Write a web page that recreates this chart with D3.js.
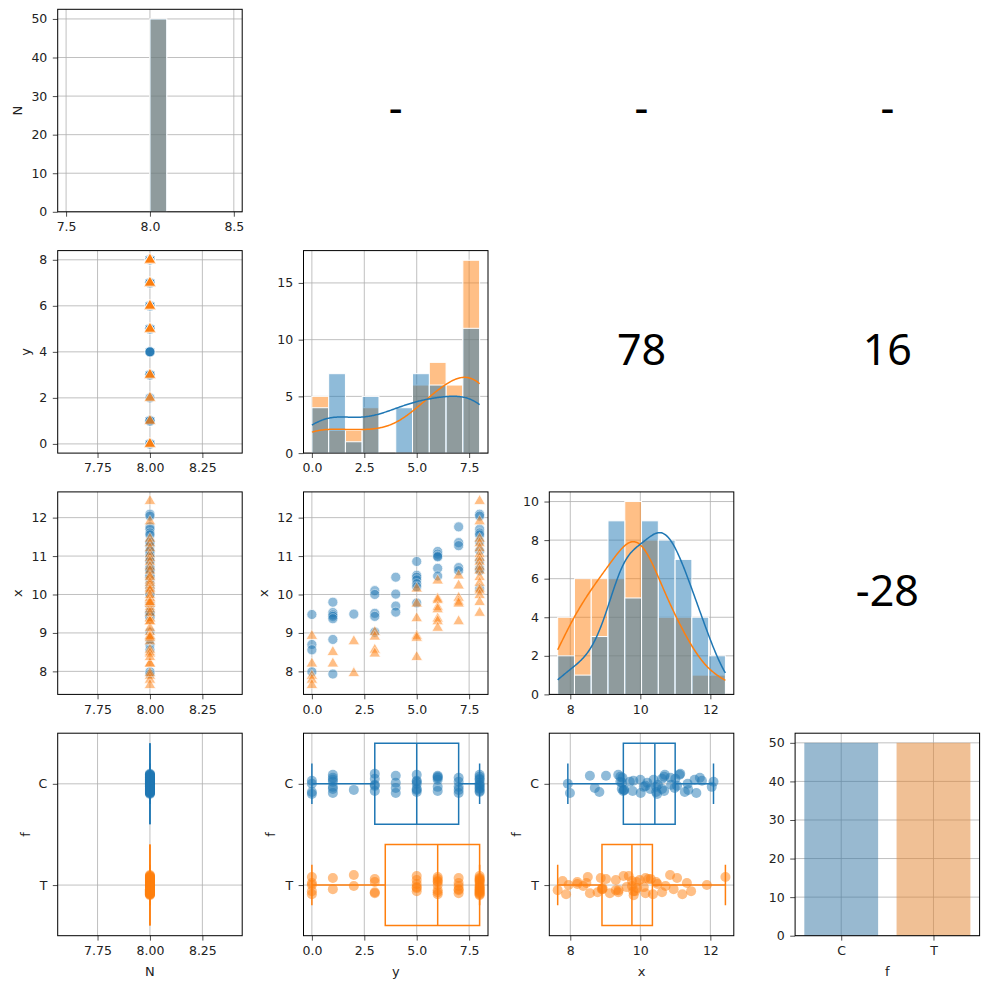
<!DOCTYPE html>
<html>
<head>
<meta charset="utf-8">
<script src="https://cdn.jsdelivr.net/npm/d3@7"></script>
<style>
  body { margin: 0; background: #fff; }
</style>
</head>
<body>
<svg id="chart" width="989" height="989"></svg>
<script>
/*
 * Pair grid of N, y, x and f, split by group f (C / T).
 * Lower panels: scatter / strip + box, diagonal: histograms with kde,
 * upper panels: a number printed in the middle.
 */

// ---- data ----

const GROUPS = ['C', 'T'];
const VARS = ['N', 'y', 'x', 'f'];
const UPPER_LABELS = ['-', '-', '-', '78', '16', '-28'];

const N_C = [
  8, 8, 8, 8, 8, 8, 8, 8, 8, 8,
  8, 8, 8, 8, 8, 8, 8, 8, 8, 8,
  8, 8, 8, 8, 8, 8, 8, 8, 8, 8,
  8, 8, 8, 8, 8, 8, 8, 8, 8, 8,
  8, 8, 8, 8, 8, 8, 8, 8, 8, 8
];
const Y_C = [
  0, 0, 0, 0,
  1, 1, 1, 1, 1, 1, 1,
  2,
  3, 3, 3, 3, 3,
  4, 4, 4, 4,
  5, 5, 5, 5, 5, 5, 5,
  6, 6, 6, 6, 6, 6,
  7, 7, 7, 7, 7,
  8, 8, 8, 8, 8, 8, 8, 8, 8, 8, 8
];
const X_C = [
  9.48, 8.70, 8.56, 7.99,
  9.80, 9.53, 9.47, 9.43, 9.37, 8.83, 7.93,
  9.49,
  10.10, 10.00, 9.51, 9.43, 9.02,
  10.45, 10.01, 9.70, 9.54,
  10.86, 10.50, 10.45, 10.38, 10.28, 10.20, 9.78,
  11.12, 11.05, 11.00, 10.98, 10.68, 10.48,
  11.76, 11.35, 11.27, 10.70, 10.62,
  12.09, 12.04, 11.70, 11.60, 11.55, 11.37, 11.14, 10.88, 10.68, 10.62, 10.15
];

const N_T = [
  8, 8, 8, 8, 8, 8, 8, 8, 8, 8,
  8, 8, 8, 8, 8, 8, 8, 8, 8, 8,
  8, 8, 8, 8, 8, 8, 8, 8, 8, 8,
  8, 8, 8, 8, 8, 8, 8, 8, 8, 8,
  8, 8, 8, 8, 8, 8, 8, 8, 8, 8
];
const Y_T = [
  0, 0, 0, 0, 0,
  1, 1,
  2, 2,
  3, 3, 3, 3,
  5, 5, 5, 5, 5, 5,
  6, 6, 6, 6, 6, 6, 6, 6,
  7, 7, 7, 7, 7, 7,
  8, 8, 8, 8, 8, 8, 8, 8, 8, 8, 8, 8, 8, 8, 8, 8, 8
];
const X_T = [
  8.92, 8.20, 7.88, 7.78, 7.64,
  8.50, 8.20,
  8.78, 7.95,
  9.02, 8.90, 8.56, 8.46,
  10.15, 9.76, 9.38, 8.92, 8.87, 8.37,
  10.36, 9.89, 9.85, 9.67, 9.61, 9.37, 9.30, 9.13,
  10.49, 10.23, 9.91, 9.81, 9.76, 9.30,
  12.43, 11.90, 11.45, 11.33, 11.20, 11.05, 10.95, 10.85, 10.72, 10.62,
  10.45, 10.30, 10.15, 10.10, 9.98, 9.80, 9.52
];

// strip plot jitter, in category units
const JITTER_C = [
  -0.08, 0.03, 0.09, -0.02, 0.06, -0.06, 0.01, 0.08, -0.04, 0.05,
  -0.01, 0.07, -0.09, 0.02, -0.05, 0.04, -0.07, 0.10, -0.03, 0.00,
  0.08, -0.09, 0.05, -0.02, 0.03, -0.06, 0.09, -0.04, 0.06, -0.10,
  0.01, 0.07, -0.05, 0.02, -0.01, 0.04, -0.08, 0.09, -0.03, 0.06,
  0.05, -0.02, -0.09, 0.08, 0.00, -0.06, 0.03, -0.04, 0.07, -0.07
];
const JITTER_T = [
  0.04, -0.07, 0.01, 0.09, -0.03, 0.06, -0.09, 0.02, 0.07, -0.05,
  0.08, -0.01, -0.06, 0.03, 0.10, -0.04, 0.05, -0.08, 0.00, 0.06,
  -0.02, 0.09, -0.07, 0.04, -0.10, 0.01, 0.07, -0.03, -0.06, 0.08,
  0.02, -0.05, 0.06, -0.09, 0.03, -0.01, 0.09, -0.04, 0.05, -0.08,
  -0.03, 0.07, 0.00, -0.06, 0.04, 0.08, -0.02, -0.07, 0.01, 0.05
];

// tick values
const TICKS = {
  N: [7.75, 8.00, 8.25],
  y: [0, 2, 4, 6, 8],
  yBottom: [0, 2.5, 5, 7.5],
  x: [8, 9, 10, 11, 12],
  xBottom: [8, 10, 12],
  NHist: [7.5, 8.0, 8.5]
};
const COUNT_TICKS = {
  N: [0, 10, 20, 30, 40, 50],
  y: [0, 5, 10, 15],
  x: [0, 2, 4, 6, 8, 10],
  f: [0, 10, 20, 30, 40, 50]
};

// ---- layout and style ----

const PANEL_W = 184.5;
const PANEL_H = 202.5;
const colX = c => 57.7 + c * 245.8;
const rowY = r => 9.3 + r * 241.3;

const FONT = '"DejaVu Sans", sans-serif';
const BIG_FONT = '"Noto Sans", sans-serif';
const TICK_SIZE = 12.5;
const LABEL_SIZE = 13;
const BIG_SIZE = 43;
const GRID_COLOR = '#b0b0b0';
const COLORS = { C: '#1f77b4', T: '#ff7f0e' };
const BAR_COLORS = { C: '#3274a1', T: '#e1812c' };
const HIST_BINS = 10;

const data = {
  C: { N: N_C, y: Y_C, x: X_C, jitter: JITTER_C },
  T: { N: N_T, y: Y_T, x: X_T, jitter: JITTER_T }
};

const svg = d3.select('#chart');

/*
 * Matplotlib-like autoscale: 5% margin, singular ranges widened first.
 */

const pad = ([a, b]) => {
  if (a === b) {
    const d = Math.abs(a) * 0.05 || 0.05;
    a -= d;
    b += d;
  }
  const m = (b - a) * 0.05;
  return [a - m, b + m];
};

const allValues = v => data.C[v].concat(data.T[v]);
const varDomain = v => pad(d3.extent(allValues(v)));

const xTicksFor = v => (v === 'y' ? TICKS.yBottom : v === 'x' ? TICKS.xBottom : TICKS[v]);
const xFmtFor = v => (v === 'N' ? '.2f' : v === 'y' ? '.1f' : 'd');

/*
 * Grid lines, drawn under the marks.
 */

const drawGrid = (g, xs, ys, xTicks, yTicks) => {
  g.append('g')
    .selectAll('line')
    .data(xTicks)
    .join('line')
      .attr('x1', d => xs(d))
      .attr('x2', d => xs(d))
      .attr('y1', 0)
      .attr('y2', PANEL_H)
      .attr('stroke', GRID_COLOR)
      .attr('stroke-width', 0.8);
  g.append('g')
    .selectAll('line')
    .data(yTicks)
    .join('line')
      .attr('x1', 0)
      .attr('x2', PANEL_W)
      .attr('y1', d => ys(d))
      .attr('y2', d => ys(d))
      .attr('stroke', GRID_COLOR)
      .attr('stroke-width', 0.8);
};

/*
 * Axes, frame and labels, drawn over the marks.
 */

const drawAxes = (g, xs, ys, o) => {
  const xAxis = d3.axisBottom(xs)
      .tickValues(o.xTicks)
      .tickSize(4.9)
      .tickSizeOuter(0)
      .tickPadding(5.5);
  if (o.xFmt) xAxis.tickFormat(d3.format(o.xFmt));
  const gx = g.append('g')
      .attr('transform', `translate(0,${PANEL_H})`)
      .call(xAxis);

  const yAxis = d3.axisLeft(ys)
      .tickValues(o.yTicks)
      .tickSize(4.9)
      .tickSizeOuter(0)
      .tickPadding(5.5);
  if (o.yFmt) yAxis.tickFormat(d3.format(o.yFmt));
  const gy = g.append('g').call(yAxis);

  [gx, gy].forEach(a => {
    a.select('.domain').remove();
    a.attr('font-family', FONT)
      .attr('font-size', TICK_SIZE)
      .attr('color', '#222');
    a.selectAll('.tick line').attr('stroke', '#222').attr('stroke-width', 0.8);
  });

  g.append('rect')
      .attr('width', PANEL_W)
      .attr('height', PANEL_H)
      .attr('fill', 'none')
      .attr('stroke', '#000')
      .attr('stroke-width', 1);

  if (o.yLabel) {
    const bb = gy.node().getBBox();
    g.append('text')
        .attr('transform', `translate(${bb.x - 9},${PANEL_H / 2}) rotate(-90)`)
        .attr('text-anchor', 'middle')
        .attr('font-family', FONT)
        .attr('font-size', LABEL_SIZE)
        .attr('fill', '#222')
        .text(o.yLabel);
  }
  if (o.xLabel) {
    g.append('text')
        .attr('x', PANEL_W / 2)
        .attr('y', PANEL_H + 40)
        .attr('text-anchor', 'middle')
        .attr('font-family', FONT)
        .attr('font-size', LABEL_SIZE)
        .attr('fill', '#222')
        .text(o.xLabel);
  }
};

/*
 * Gaussian kde with Scott's bandwidth.
 */

const kde = (values, grid) => {
  const n = values.length;
  const bw = d3.deviation(values) * Math.pow(n, -0.2);
  const norm = n * bw * Math.sqrt(2 * Math.PI);
  return grid.map(x => [x, d3.sum(values, v => Math.exp(-0.5 * ((x - v) / bw) ** 2)) / norm]);
};

/*
 * Box plot statistics (1.5 IQR whiskers).
 */

const boxStats = values => {
  const s = values.slice().sort(d3.ascending);
  const q1 = d3.quantileSorted(s, 0.25);
  const med = d3.quantileSorted(s, 0.5);
  const q3 = d3.quantileSorted(s, 0.75);
  const iqr = q3 - q1;
  const lo = d3.min(s.filter(v => v >= q1 - 1.5 * iqr));
  const hi = d3.max(s.filter(v => v <= q3 + 1.5 * iqr));
  return { q1, med, q3, lo, hi };
};

/*
 * Diagonal: layered histogram with kde.
 */

const drawHist = (g, v, showYLabel, xLabel) => {
  const all = allValues(v);
  let [lo, hi] = d3.extent(all);
  if (lo === hi) {
    lo -= 0.5;
    hi += 0.5;
  }
  const width = (hi - lo) / HIST_BINS;
  const edges = d3.range(1, HIST_BINS).map(i => lo + i * width);
  const binner = d3.bin().domain([lo, hi]).thresholds(edges);
  const hists = {};
  GROUPS.forEach(k => { hists[k] = binner(data[k][v]); });
  const maxCount = d3.max(GROUPS, k => d3.max(hists[k], b => b.length));

  const xs = d3.scaleLinear().domain(pad([lo, hi])).range([0, PANEL_W]);
  const ys = d3.scaleLinear().domain([0, maxCount * 1.05]).range([PANEL_H, 0]);
  const xTicks = v === 'N' ? TICKS.NHist : xTicksFor(v);

  drawGrid(g, xs, ys, xTicks, COUNT_TICKS[v]);

  // T under C
  ['T', 'C'].forEach(k => {
    g.append('g')
      .selectAll('rect')
      .data(hists[k].filter(b => b.length > 0))
      .join('rect')
        .attr('x', b => xs(b.x0))
        .attr('y', b => ys(b.length))
        .attr('width', b => xs(b.x1) - xs(b.x0))
        .attr('height', b => ys(0) - ys(b.length))
        .attr('fill', COLORS[k])
        .attr('fill-opacity', 0.5)
        .attr('stroke', '#fff')
        .attr('stroke-width', 1);
  });

  if (d3.deviation(all) > 0) {
    const grid = d3.range(200).map(i => lo + i * (hi - lo) / 199);
    const line = d3.line().x(d => xs(d[0])).y(d => ys(d[1]));
    ['T', 'C'].forEach(k => {
      const scale = data[k][v].length * width;
      const curve = kde(data[k][v], grid).map(([x, d]) => [x, d * scale]);
      g.append('path')
          .attr('d', line(curve))
          .attr('fill', 'none')
          .attr('stroke', COLORS[k])
          .attr('stroke-width', 1.5);
    });
  }

  drawAxes(g, xs, ys, {
    xTicks,
    xFmt: v === 'N' ? '.1f' : xFmtFor(v),
    yTicks: COUNT_TICKS[v],
    yFmt: 'd',
    yLabel: showYLabel ? v : null,
    xLabel
  });
};

/*
 * Diagonal for the category: count bars.
 */

const drawCount = g => {
  const xs = d3.scalePoint().domain(GROUPS).range([0, PANEL_W]).padding(0.5);
  const counts = GROUPS.map(k => ({ k, n: data[k].x.length }));
  const ys = d3.scaleLinear().domain([0, d3.max(counts, d => d.n) * 1.05]).range([PANEL_H, 0]);
  const bw = xs.step() * 0.8;

  drawGrid(g, xs, ys, GROUPS, COUNT_TICKS.f);

  g.append('g')
    .selectAll('rect')
    .data(counts)
    .join('rect')
      .attr('x', d => xs(d.k) - bw / 2)
      .attr('y', d => ys(d.n))
      .attr('width', bw)
      .attr('height', d => ys(0) - ys(d.n))
      .attr('fill', d => BAR_COLORS[d.k])
      .attr('fill-opacity', 0.5);

  drawAxes(g, xs, ys, {
    xTicks: GROUPS,
    yTicks: COUNT_TICKS.f,
    yFmt: 'd',
    xLabel: 'f'
  });
};

/*
 * Lower: scatter of two numeric variables.
 */

const circle = d3.symbol().type(d3.symbolCircle).size(80);
const triangle = d3.symbol().type(d3.symbolTriangle).size(58);

const drawScatter = (g, cv, rv, xLabel) => {
  const xs = d3.scaleLinear().domain(varDomain(cv)).range([0, PANEL_W]);
  const ys = d3.scaleLinear().domain(varDomain(rv)).range([PANEL_H, 0]);

  drawGrid(g, xs, ys, xTicksFor(cv), TICKS[rv]);

  GROUPS.forEach(k => {
    const pts = data[k][cv].map((v, i) => [v, data[k][rv][i]]);
    g.append('g')
      .selectAll('path')
      .data(pts)
      .join('path')
        .attr('transform', d => `translate(${xs(d[0])},${ys(d[1])})`)
        .attr('d', k === 'C' ? circle : triangle)
        .attr('fill', COLORS[k])
        .attr('stroke', '#fff')
        .attr('stroke-width', 0.75)
        .attr('opacity', 0.5);
  });

  drawAxes(g, xs, ys, {
    xTicks: xTicksFor(cv),
    xFmt: xFmtFor(cv),
    yTicks: TICKS[rv],
    yFmt: 'd',
    yLabel: rv,
    xLabel
  });
};

/*
 * Bottom row: strip plot with an unfilled box plot per group.
 */

const drawStrip = (g, cv, c) => {
  const xs = d3.scaleLinear().domain(varDomain(cv)).range([0, PANEL_W]);
  const ys = d3.scalePoint().domain(GROUPS).range([0, PANEL_H]).padding(0.5);
  const step = ys.step();

  drawGrid(g, xs, ys, xTicksFor(cv), GROUPS);

  GROUPS.forEach(k => {
    const jit = data[k].jitter;
    g.append('g')
      .selectAll('circle')
      .data(data[k][cv])
      .join('circle')
        .attr('cx', d => xs(d))
        .attr('cy', (d, i) => ys(k) + jit[(i + c * 17) % jit.length] * step)
        .attr('r', 5)
        .attr('fill', COLORS[k])
        .attr('opacity', 0.5);
  });

  GROUPS.forEach(k => {
    const st = boxStats(data[k][cv]);
    const cy = ys(k);
    const half = 0.4 * step;
    const box = g.append('g')
        .attr('fill', 'none')
        .attr('stroke', COLORS[k])
        .attr('stroke-width', 1.5);
    box.append('path')
        .attr('d', `M${xs(st.q1)},${cy - half}H${xs(st.q3)}V${cy + half}H${xs(st.q1)}Z`);
    box.append('path')
        .attr('d', `M${xs(st.med)},${cy - half}V${cy + half}`);
    box.append('path')
        .attr('d', `M${xs(st.lo)},${cy}H${xs(st.q1)}M${xs(st.q3)},${cy}H${xs(st.hi)}`);
    box.append('path')
        .attr('d', `M${xs(st.lo)},${cy - half / 2}V${cy + half / 2}M${xs(st.hi)},${cy - half / 2}V${cy + half / 2}`);
  });

  drawAxes(g, xs, ys, {
    xTicks: xTicksFor(cv),
    xFmt: xFmtFor(cv),
    yTicks: GROUPS,
    yLabel: 'f',
    xLabel: cv
  });
};

/*
 * Upper: a big label in the middle of the empty cell.
 */

const drawUpper = (g, label) => {
  g.append('text')
      .attr('x', PANEL_W / 2)
      .attr('y', PANEL_H / 2 + BIG_SIZE * 0.3)
      .attr('text-anchor', 'middle')
      .attr('font-family', BIG_FONT)
      .attr('font-size', BIG_SIZE)
      .attr('fill', '#000')
      .text(label);
};

/*
 * Build the grid.
 */

let upperIndex = 0;
VARS.forEach((rv, r) => {
  VARS.forEach((cv, c) => {
    const g = svg.append('g').attr('transform', `translate(${colX(c)},${rowY(r)})`);
    const xLabel = r === VARS.length - 1 ? cv : null;
    if (c > r) {
      drawUpper(g, UPPER_LABELS[upperIndex++]);
    } else if (r === c) {
      if (rv === 'f') drawCount(g);
      else drawHist(g, rv, r === 0, xLabel);
    } else if (rv === 'f') {
      drawStrip(g, cv, c);
    } else {
      drawScatter(g, cv, rv, xLabel);
    }
  });
});
</script>
</body>
</html>
